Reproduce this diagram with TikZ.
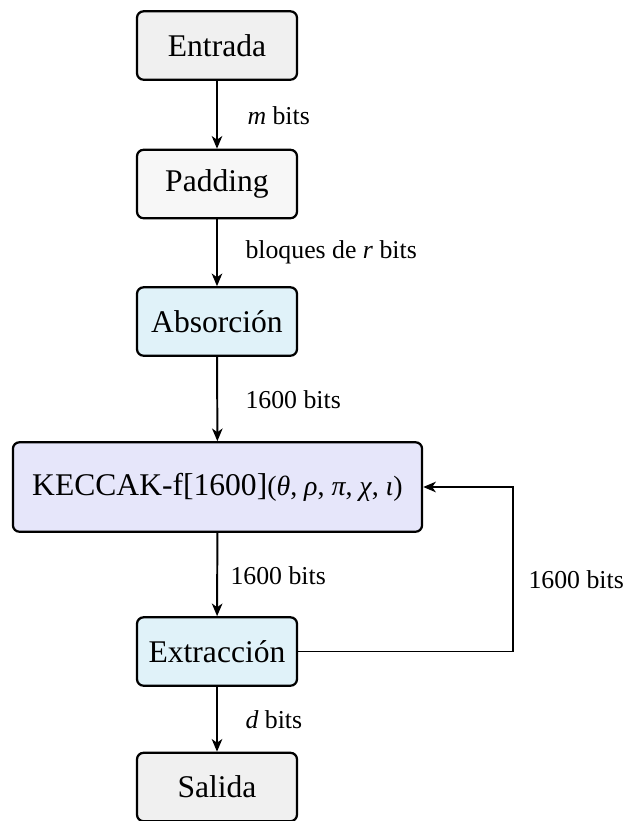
\documentclass[tikz,border=0pt]{standalone}
\usepackage{fontspec}
\setmainfont{Liberation Serif}
\usetikzlibrary{arrows.meta}

\definecolor{boxgray}{HTML}{F0F0F0}
\definecolor{boxlight}{HTML}{F7F7F7}
\definecolor{boxcyan}{HTML}{E0F2F9}
\definecolor{boxlav}{HTML}{E6E6FA}

\begin{document}
\begin{tikzpicture}[x=0.38pt,y=-0.38pt,
  block/.style={draw=black, line width=0.85pt, rounded corners=2.5pt,
    minimum width=60.8pt, minimum height=26pt, inner sep=0pt,
    font=\fontsize{12}{14}\selectfont},
  flow/.style={draw=black, line width=0.75pt,
    -{Stealth[length=4.8pt,width=4pt,inset=1.4pt]}},
  lbl/.style={font=\fontsize{9.8}{12}\selectfont, anchor=west, inner sep=0pt}]

  \useasboundingbox (0,0) rectangle (624,821);

  % main chain of stages
  \node[block, fill=boxgray]  (in)   at (217,45.5)  {Entrada};
  \node[block, fill=boxlight] (pad)  at (217,184)   {Padding};
  \node[block, fill=boxcyan]  (abs)  at (217,321.5) {Absorción};
  \node[block, fill=boxlav, minimum width=155.5pt, minimum height=34pt]
        (perm) at (217.5,487)
        {KECCAK-f[1600]{\fontsize{10.6}{12}\selectfont(\textit{θ}, \textit{ρ}, \textit{π}, \textit{χ}, \textit{ι})}};
  \node[block, fill=boxcyan]  (ext)  at (217,651.5) {Extracción};
  \node[block, fill=boxgray]  (out)  at (217,787)   {Salida};

  % connectors with their widths
  \draw[flow] (in)   -- (pad);
  \node[lbl] (l1) at (247,116) {\textit{m} bits};
  \draw[flow] (pad)  -- (abs);
  \node[lbl] (l2) at (245,252) {bloques de \textit{r} bits};
  \draw[flow] (abs)  -- (perm);
  \node[lbl] (l3) at (245,400) {1600 bits};
  \draw[flow] (perm) -- (ext);
  \node[lbl] (l4) at (230,576) {1600 bits};
  \draw[flow] (ext)  -- (out);
  \node[lbl] (l5) at (245,720) {\textit{d} bits};

  % feedback loop back into the permutation
  \coordinate (fb) at (513,651.5);
  \draw[flow] (ext.east) -- (fb) |- (perm.east);
  \node[lbl] (l6) at (528,580) {1600 bits};
\end{tikzpicture}
\end{document}
